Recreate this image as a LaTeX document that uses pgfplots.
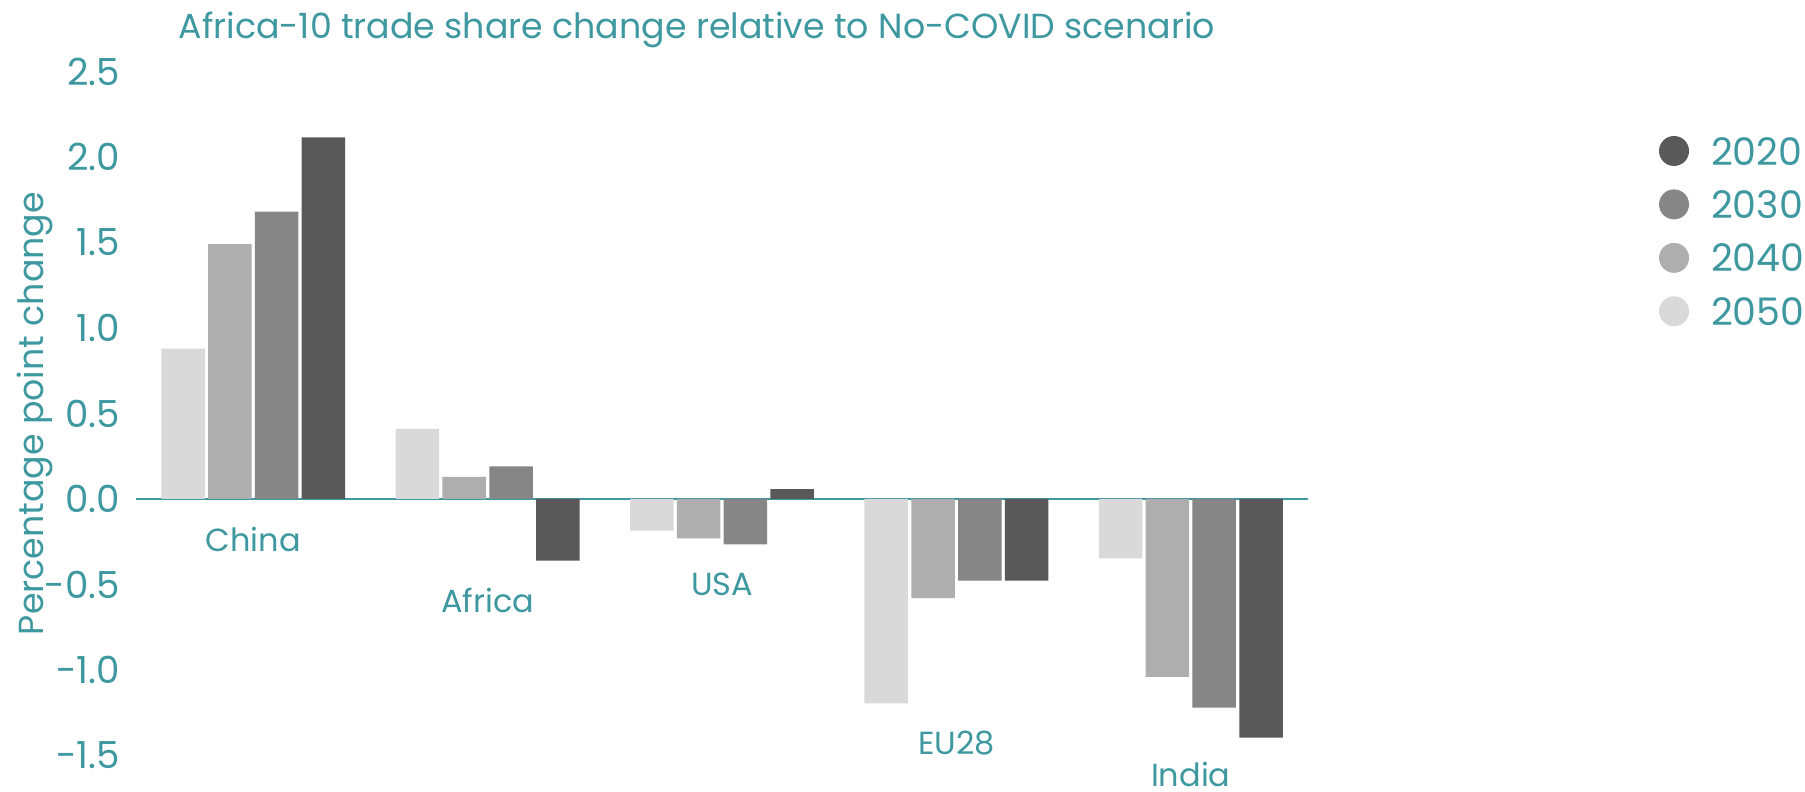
\documentclass[border=0pt]{standalone}
\usepackage{pgfplots}
\pgfplotsset{compat=1.18}
\usepackage{fontspec}
\setmainfont{Poppins}
\definecolor{tealc}{RGB}{62,152,160}
\definecolor{c2020}{RGB}{89,89,89}
\definecolor{c2030}{RGB}{134,134,134}
\definecolor{c2040}{RGB}{174,174,174}
\definecolor{c2050}{RGB}{217,217,217}
\pgfplotsset{circlegend/.style={legend image code/.code={\fill[##1] (1.5mm,0.08em) circle (1.5mm);}}}
\begin{document}
\begin{tikzpicture}[font=\fontsize{9.1pt}{11pt}\selectfont]
\useasboundingbox (-13.6mm,-3.65mm) rectangle (166.9mm,75.55mm);
\begin{axis}[
  scale only axis, width=117.2mm, height=68.4mm,
  xmin=-0.5, xmax=4.5, ymin=-1.5, ymax=2.5,
  clip=false,
  axis line style={draw=none},
  xtick=\empty,
  ytick={-1.5,-1,-0.5,0,0.5,1,1.5,2,2.5},
  yticklabels={-1.5,-1.0,-0.5,0.0,0.5,1.0,1.5,2.0,2.5},
  major tick length=0pt,
  yticklabel style={anchor=east, inner sep=0pt, xshift=-1.55mm, text=tealc, font=\fontsize{10.6pt}{12pt}\selectfont},
  extra y ticks={0}, extra y tick labels={},
  extra y tick style={grid=major, major grid style={draw=tealc, line width=0.5pt}},
  ybar=0.33mm, bar width=4.35mm,
  title={Africa-10 trade share change relative to No-COVID scenario},
  every axis title/.style={at={(axis description cs:0.0358,1)}, anchor=base west, yshift=3.25mm, inner sep=0pt, text=tealc, font=\fontsize{9.9pt}{11pt}\selectfont},
  ylabel={Percentage point change},
  ylabel style={at={(axis description cs:-0.0865,0.5)}, anchor=center, inner sep=0pt, text=tealc, font=\fontsize{9.9pt}{12pt}\selectfont},
  legend style={draw=none, fill=none, at={(axis description cs:1.2995,0.9057)}, anchor=north west,
    inner sep=0pt, outer sep=0pt, row sep=1.9mm, column sep=2.2mm,
    nodes={inner sep=0pt, text=tealc}, font=\fontsize{10.8pt}{12pt}\selectfont},
  legend cell align=left,
  reverse legend,
]
\addplot[fill=c2050, draw=none, circlegend]
  coordinates {(0,0.88) (1,0.41) (2,-0.185) (3,-1.195) (4,-0.347)};
\addplot[fill=c2040, draw=none, circlegend]
  coordinates {(0,1.49) (1,0.13) (2,-0.23) (3,-0.58) (4,-1.04)};
\addplot[fill=c2030, draw=none, circlegend]
  coordinates {(0,1.68) (1,0.19) (2,-0.265) (3,-0.478) (4,-1.22)};
\addplot[fill=c2020, draw=none, circlegend]
  coordinates {(0,2.115) (1,-0.36) (2,0.058) (3,-0.478) (4,-1.395)};
\legend{2050,2040,2030,2020}
\node[text=tealc, anchor=center, yshift=-4mm] at (axis cs:0,0) {China};
\node[text=tealc, anchor=center, yshift=-4mm] at (axis cs:1,-0.36) {Africa};
\node[text=tealc, anchor=center, yshift=-4mm] at (axis cs:2,-0.265) {USA};
\node[text=tealc, anchor=center, yshift=-4mm] at (axis cs:3,-1.195) {EU28};
\node[text=tealc, anchor=center, yshift=-3.65mm] at (axis cs:4,-1.395) {India};
\end{axis}
\end{tikzpicture}
\end{document}
